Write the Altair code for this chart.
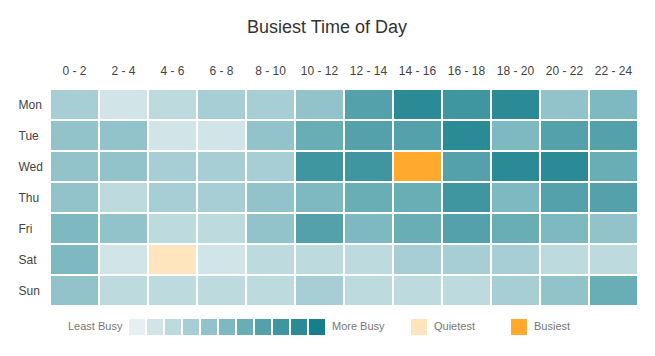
import altair as alt
import pandas as pd

days = ["Mon", "Tue", "Wed", "Thu", "Fri", "Sat", "Sun"]
slots = ["0 - 2", "2 - 4", "4 - 6", "6 - 8", "8 - 10", "10 - 12",
         "12 - 14", "14 - 16", "16 - 18", "18 - 20", "20 - 22", "22 - 24"]

# busy level (1 = least busy ... 11 = most busy) per day, per 2-hour slot
mon = [4, 2, 3, 4, 4, 5, 8, 10, 9, 10, 5, 6]
tue = [5, 5, 2, 2, 5, 7, 8, 8, 10, 6, 8, 8]
wed = [5, 5, 4, 4, 4, 9, 9, 11, 8, 10, 10, 7]
thu = [5, 3, 4, 4, 5, 6, 7, 7, 9, 6, 8, 8]
fri = [6, 5, 3, 3, 5, 8, 6, 7, 8, 7, 6, 5]
sat = [6, 2, 1, 2, 3, 3, 3, 4, 4, 4, 3, 3]
sun = [5, 3, 3, 3, 3, 4, 3, 3, 3, 4, 5, 7]
levels = [mon, tue, wed, thu, fri, sat, sun]

busiest = ("Wed", "14 - 16")
quietest = ("Sat", "4 - 6")

level_names = [f"L{i}" for i in range(1, 12)]
level_colors = ["#e5f0f2", "#d1e5e8", "#bddadf", "#a8ced5", "#93c3ca", "#7eb8c0",
                "#69adb5", "#54a1ab", "#3f96a1", "#2a8b97", "#157f8c"]
special_names = ["Quietest", "Busiest"]
special_colors = ["#ffe5bd", "#ffaa2c"]

rows = []
for d, vals in zip(days, levels):
    for s, v in zip(slots, vals):
        special = ""
        if (d, s) == busiest:
            special = "Busiest"
        elif (d, s) == quietest:
            special = "Quietest"
        rows.append({"day": d, "slot": s, "lvl": f"L{v}", "special": special})
df = pd.DataFrame(rows)

FONT = "Liberation Sans"
LEG_COLOR = "#777"

x_enc = alt.X("slot:N", sort=slots, title=None,
              axis=alt.Axis(orient="top", domain=False, ticks=False, labelAngle=0,
                            labelPadding=12, labelFontSize=12, labelColor="#444",
                            labelFont=FONT))
y_enc = alt.Y("day:N", sort=days, title=None,
              axis=alt.Axis(domain=False, ticks=False, labelAlign="left",
                            labelPadding=32, labelFontSize=12, labelColor="#444",
                            labelFont=FONT))

base = alt.Chart(df)

cells = base.mark_rect(stroke="white", strokeWidth=2).encode(
    x=x_enc, y=y_enc,
    color=alt.Color("lvl:N",
                    scale=alt.Scale(domain=level_names, range=level_colors),
                    legend=alt.Legend(orient="none", legendX=18, legendY=230,
                                      direction="horizontal", title="Least Busy",
                                      titleOrient="left", titlePadding=6,
                                      titleFont=FONT, titleFontSize=11,
                                      titleFontWeight="normal", titleColor=LEG_COLOR,
                                      titleBaseline="middle",
                                      labelExpr="''",
                                      labelOffset=0, labelFont=FONT, labelFontSize=11,
                                      labelColor=LEG_COLOR, columnPadding=2,
                                      symbolType="square", symbolSize=256,
                                      symbolStrokeWidth=0, symbolOpacity=1,
                                      padding=0)),
)

specials = base.mark_rect(stroke="white", strokeWidth=2).encode(
    x=x_enc, y=y_enc,
    fill=alt.Fill("special:N",
                  scale=alt.Scale(domain=special_names, range=special_colors),
                  legend=alt.Legend(orient="none", legendX=282, legendY=230,
                                    direction="horizontal", title="More Busy",
                                    titleOrient="left", titlePadding=26,
                                    titleFont=FONT, titleFontSize=11,
                                    titleFontWeight="normal", titleColor=LEG_COLOR,
                                    titleBaseline="middle",
                                    labelOffset=7, labelFont=FONT, labelFontSize=11,
                                    labelColor=LEG_COLOR, columnPadding=36,
                                    symbolType="square", symbolSize=256,
                                    symbolStrokeWidth=0, symbolOpacity=1,
                                    padding=0)),
).transform_filter(alt.datum.special != "")

chart = alt.layer(cells, specials).properties(
    width=588, height=217,
    title=alt.TitleParams("Busiest Time of Day", fontSize=18, font=FONT,
                          fontWeight="normal", color="#333", offset=27, dx=-17),
    autosize=alt.AutoSizeParams(type="none"),
    padding={"left": 42, "top": 81, "right": 9, "bottom": 42},
).resolve_scale(color="independent").configure_view(stroke=None)

chart.save("out.html", embed_options={"renderer": "svg", "actions": False})
